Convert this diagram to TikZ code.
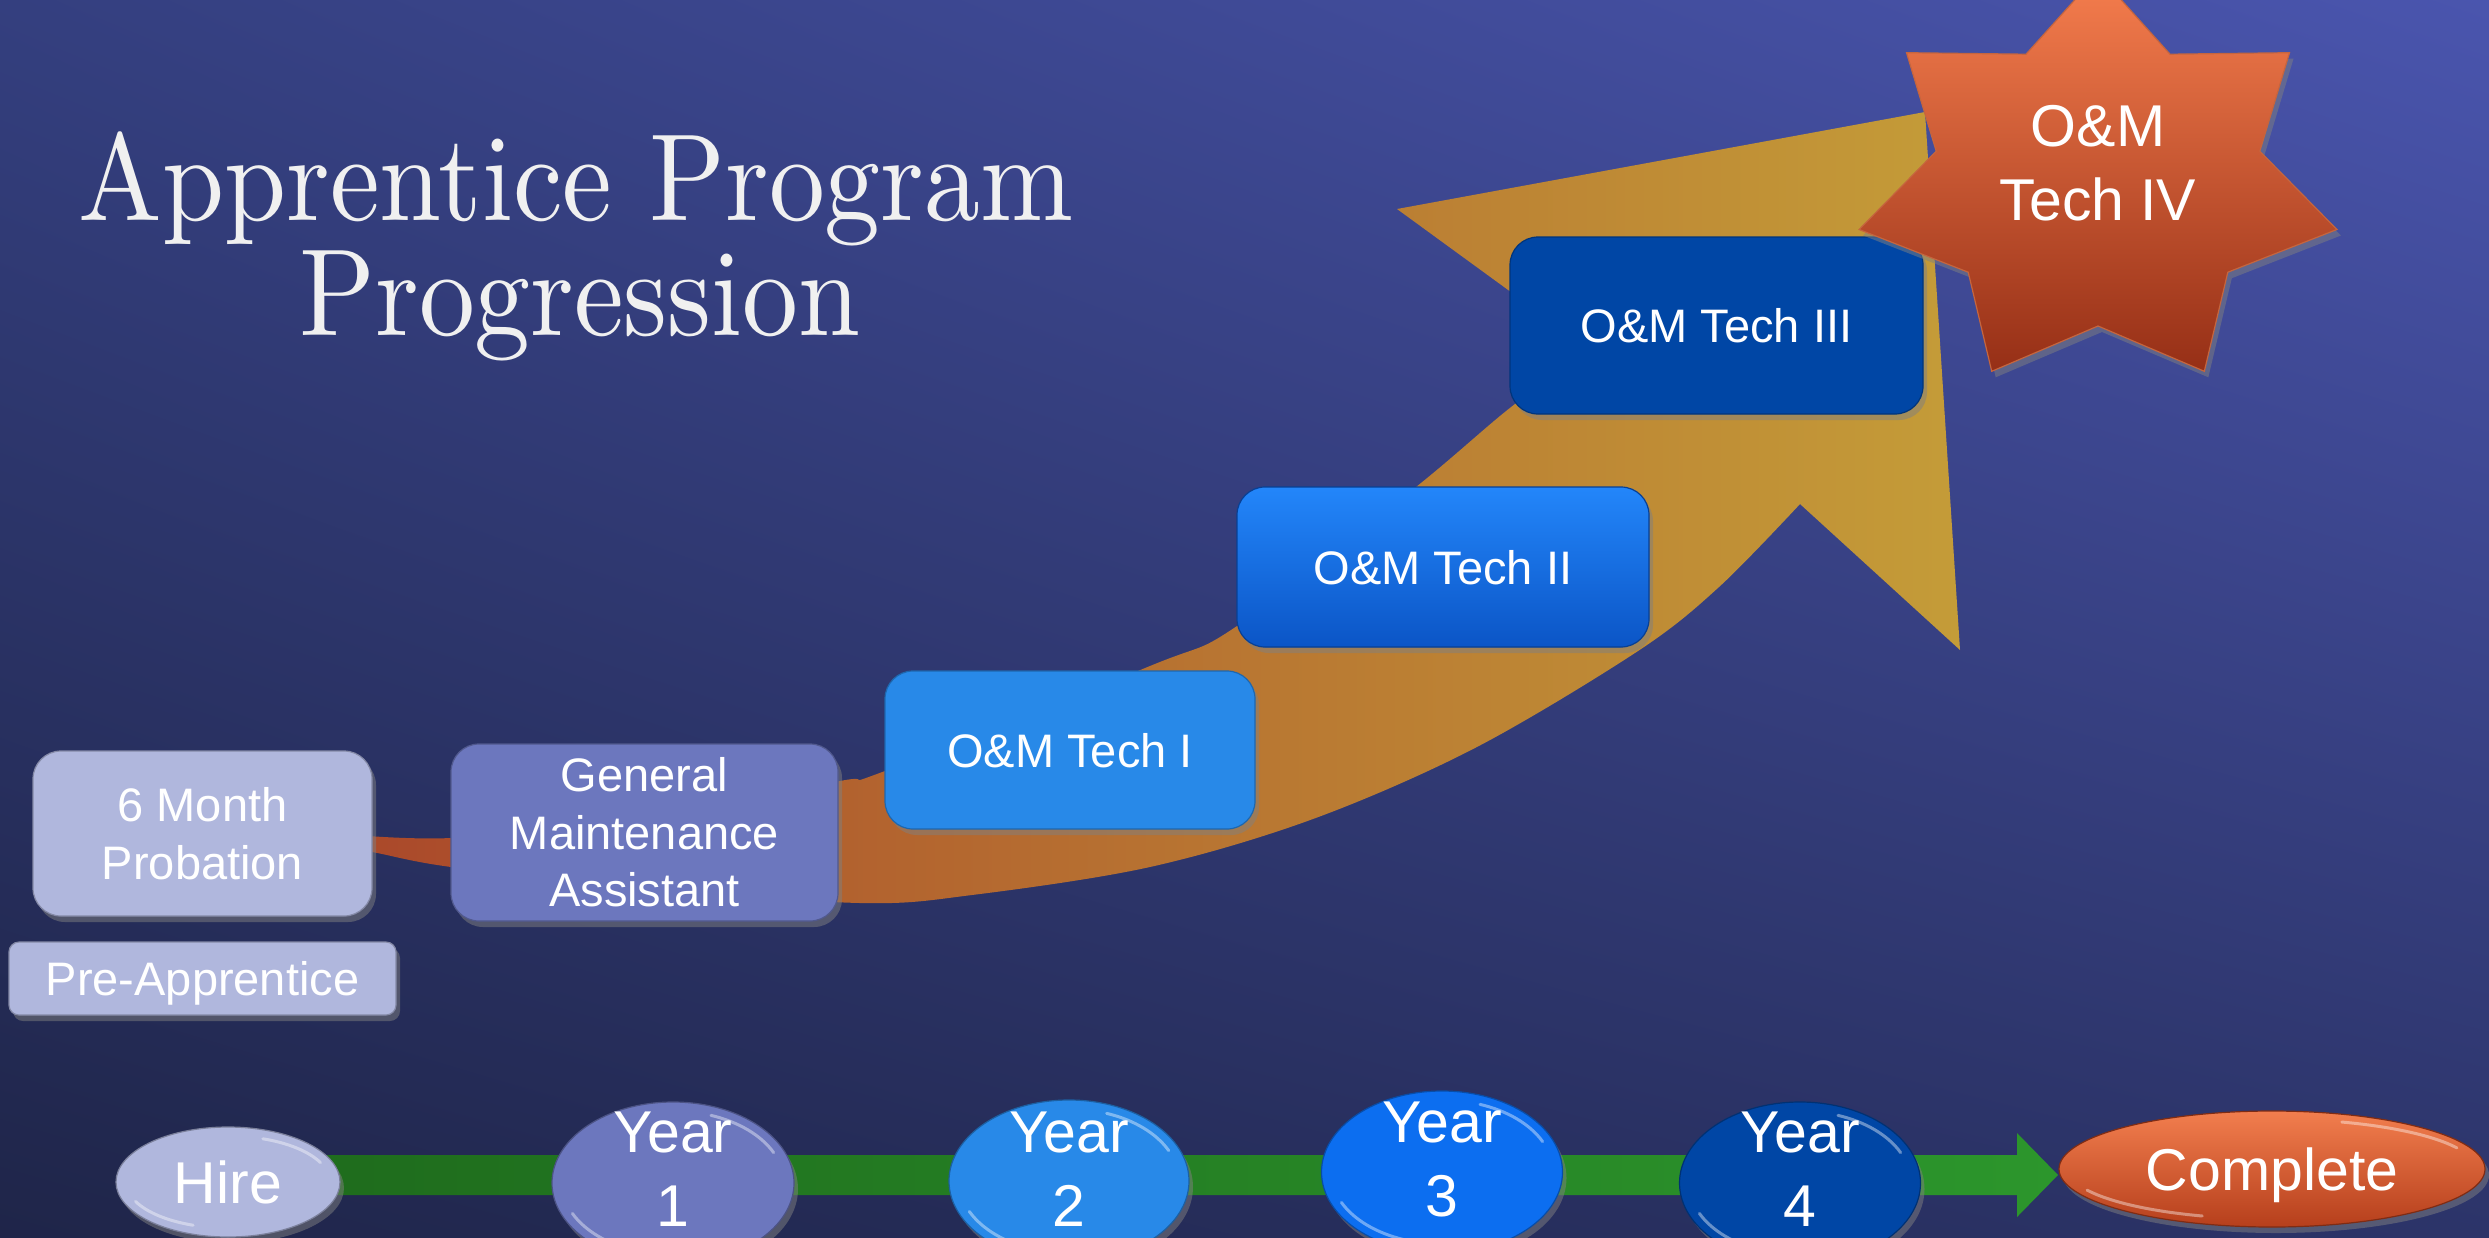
\documentclass[tikz,border=0pt]{standalone}
\usepackage{fontspec}
\setsansfont{Liberation Sans}
\newfontfamily\titlefont{lmroman10-regular.otf}
\usepackage{graphicx}
\usetikzlibrary{shapes.geometric, shadows, shadings, calc}
\definecolor{bgTL}{HTML}{343F7F}
\definecolor{bgTR}{HTML}{4A55AE}
\definecolor{bgBL}{HTML}{1F2549}
\definecolor{bgBR}{HTML}{2C3469}
\definecolor{titleC}{HTML}{F0F0F0}
\definecolor{arrA}{HTML}{AA472A}
\definecolor{arrM}{HTML}{B4622E}
\definecolor{arrB}{HTML}{C49C38}
\definecolor{barA}{HTML}{1E6A1C}
\definecolor{barB}{HTML}{2C962C}
\definecolor{lavC}{HTML}{B0B7DD}
\definecolor{purC}{HTML}{6C77BE}
\definecolor{skyC}{HTML}{2889E8}
\definecolor{briC}{HTML}{0C6EF0}
\definecolor{t2Top}{HTML}{2386FA}
\definecolor{t2Bot}{HTML}{0B55C6}
\definecolor{navC}{HTML}{0046A5}
\definecolor{stTop}{HTML}{F67E4E}
\definecolor{stBot}{HTML}{962F16}
\definecolor{cpTop}{HTML}{F27E4E}
\definecolor{cpBot}{HTML}{B63F1C}
\tikzset{
  titlest/.style={text=titleC, font=\titlefont\fontsize{124}{124}\selectfont, inner sep=0pt},
  lbl/.style={text=white, font=\sffamily\fontsize{47}{57.5}\selectfont, align=center, inner sep=0pt},
  biglbl/.style={text=white, font=\sffamily\fontsize{59}{74}\selectfont, align=center, inner sep=0pt},
  shad/.style={drop shadow={opacity=0.5, shadow xshift=4pt, shadow yshift=-6pt}},
  boxst/.style={lbl, rounded corners=28pt, fill=#1, draw=#1!75!black, line width=1.2pt, shad},
  ellst/.style={ellipse, inner sep=0pt, fill=#1, draw=#1!70!black, line width=1.2pt, shad},
  one/.style={text height=34pt, text depth=0pt},
  gloss/.style={white, opacity=0.4, line width=3pt, line cap=round},
}
\newcommand\glossarcs[3]{% node name, x radius, y radius (pt)
  \draw[gloss] (#1.center) ++(25:#2pt and #3pt) arc[start angle=25, end angle=70, x radius=#2pt, y radius=#3pt];
  \draw[gloss] (#1.center) ++(205:#2pt and #3pt) arc[start angle=205, end angle=250, x radius=#2pt, y radius=#3pt];
}
\begin{document}
\begin{tikzpicture}[x=1pt, y=-1pt]
\shade[upper left=bgTL, upper right=bgTR, lower left=bgBL, lower right=bgBR] (0,0) rectangle (2489,1237);
\useasboundingbox (0,0) rectangle (2489,1237);

% title
\node[titlest, anchor=base] (title1) at (576,220) {\scalebox{0.9}[1]{Apprentice Program}};
\node[titlest, anchor=base] (title2) at (580,335) {\scalebox{0.9}[1]{Progression}};

% big curved arrow
\shade[left color=arrA, middle color=arrM, right color=arrB]
  plot[smooth, tension=0.55] coordinates {(330,833) (451,838) (640,818) (840,781) (885,771) (1150,666) (1237,626) (1416,487) (1519,401) (1596,354)}
  -- (1397,209) -- (1925,112) -- (1960,650) -- (1800,504)
  -- plot[smooth, tension=0.55] coordinates {(1800,504) (1719,587) (1638,651) (1475,748) (1313,819) (1150,867) (972,895) (860,903) (640,888) (451,867) (372,852) (330,846)}
  -- cycle;

% boxes
\node[boxst=lavC, minimum width=339pt, minimum height=165pt] (prob) at (202.5,833.5) {6 Month\\Probation};
\node[boxst=lavC, rounded corners=10pt, minimum width=387pt, minimum height=73pt, one] (pre) at (202.5,978.5) {Pre-Apprentice};
\node[boxst=purC, minimum width=387pt, minimum height=177pt] (gma) at (644.5,832.5) {General\\Maintenance\\Assistant};
\node[boxst=skyC, minimum width=370pt, minimum height=158pt, one] (t1) at (1070,750) {O\&M Tech I};
\node[boxst=t2Bot, top color=t2Top, bottom color=t2Bot, minimum width=412pt, minimum height=160pt, one] (t2) at (1443,567) {O\&M Tech II};
\node[boxst=navC, minimum width=413pt, minimum height=177pt, one] (t3) at (1716.5,325.5) {O\&M Tech III};

% star
\shade[top color=stTop, bottom color=stBot, draw=stTop!80!black, line width=1.2pt, shad]
  (2098,-26) -- (2026,54.2) -- (1906.5,52.7) -- (1936.2,151.2) -- (1859.1,229.5)
  -- (1968.2,272.2) -- (1991.7,371.3) -- (2098,326) -- (2204.3,371.3) -- (2227.8,272.2)
  -- (2336.9,229.5) -- (2259.8,151.2) -- (2289.5,52.7) -- (2170,54.2) -- cycle;
\node[biglbl] (t4) at (2098,163) {O\&M\\Tech IV};

% timeline bar
\coordinate (barstart) at (228,1175);
\coordinate (bartip) at (2058,1175);
\shade[left color=barA, right color=barB]
  ($(barstart)+(0,-20)$) -- ($(bartip)+(-41,-20)$) -- ($(bartip)+(-41,-42)$) -- (bartip)
  -- ($(bartip)+(-41,42)$) -- ($(bartip)+(-41,20)$) -- ($(barstart)+(0,20)$) -- cycle;

% milestones
\node[ellst=lavC, minimum width=224pt, minimum height=110pt] (hire) at (228,1182) {};
\glossarcs{hire}{102}{46}
\node[biglbl, text height=42pt, text depth=0pt] (hiretxt) at (hire.center) {Hire};
\node[ellst=purC, minimum width=242pt, minimum height=162pt] (y1) at (673,1183) {};
\glossarcs{y1}{111}{72}
\node[biglbl] (y1txt) at (673,1169) {Year\\1};
\node[ellst=skyC, minimum width=240pt, minimum height=162pt] (y2) at (1069,1181) {};
\glossarcs{y2}{110}{72}
\node[biglbl] (y2txt) at (1069,1169) {Year\\2};
\node[ellst=briC, minimum width=241pt, minimum height=162pt] (y3) at (1442,1172) {};
\glossarcs{y3}{111}{72}
\node[biglbl] (y3txt) at (1442,1159) {Year\\3};
\node[ellst=navC, minimum width=241pt, minimum height=162pt] (y4) at (1800,1183) {};
\glossarcs{y4}{111}{72}
\node[biglbl] (y4txt) at (1800,1169) {Year\\4};
\node[ellst=cpBot, top color=cpTop, bottom color=cpBot, minimum width=426pt, minimum height=116pt] (done) at (2272,1169) {};
\glossarcs{done}{204}{50}
\node[biglbl, text height=42pt, text depth=0pt] (donetxt) at (done.center) {Complete};
\end{tikzpicture}
\end{document}
